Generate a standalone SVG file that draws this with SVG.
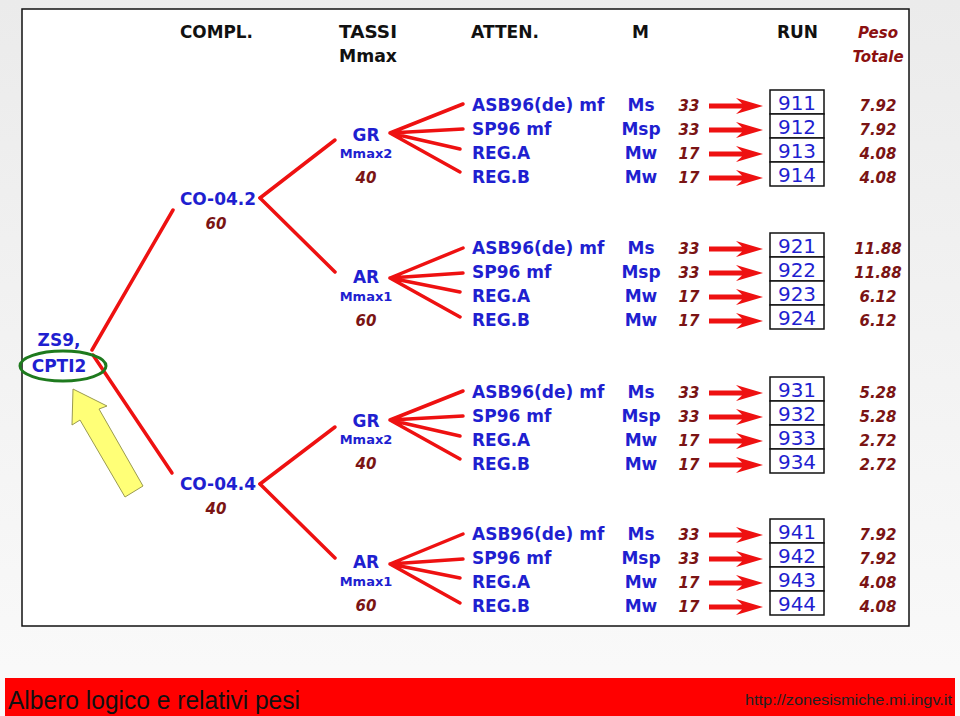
<svg xmlns="http://www.w3.org/2000/svg" xmlns:xlink="http://www.w3.org/1999/xlink" width="960" height="716" viewBox="0 0 960 716">
<style>
.hd{font-family:"DejaVu Sans",Verdana,sans-serif;font-weight:bold;font-size:17px;fill:#111}
.pt{font-family:"DejaVu Sans",Verdana,sans-serif;font-weight:bold;font-style:italic;font-size:15px;fill:#8b1010}
.bl{font-family:"DejaVu Sans",Verdana,sans-serif;font-weight:bold;fill:#1f1fd0}
.lb{font-size:17px}
.sm{font-size:13px}
.nm{font-family:"DejaVu Sans",Verdana,sans-serif;font-weight:bold;font-style:italic;font-size:15px;fill:#7a1414}
.rn{font-family:"DejaVu Sans",Verdana,sans-serif;font-size:20px;fill:#1f1fd0}
.ln{stroke:#ee1111;stroke-width:3.5;stroke-linecap:round;fill:none}
.box{fill:#fff;stroke:#111;stroke-width:1.5}
.ar{fill:#ee1111}
</style>
<defs>
<linearGradient id="bg" x1="0" y1="0" x2="0" y2="1">
<stop offset="0" stop-color="#ebebeb"/>
<stop offset="1" stop-color="#fafafa"/>
</linearGradient>
<path id="arr" class="ar" d="M709,-2.5 L742,-2.5 L736,-8 L763,0 L736,8 L742,2.5 L709,2.5 Z"/>
</defs>
<rect x="0" y="0" width="960" height="716" fill="url(#bg)"/>
<rect x="22" y="9" width="887" height="617" fill="#fff" stroke="#111" stroke-width="1.5"/>

<g id="header">
<text class="hd" x="180" y="38" textLength="73" lengthAdjust="spacingAndGlyphs">COMPL.</text>
<text class="hd" x="339" y="38" textLength="58" lengthAdjust="spacingAndGlyphs">TASSI</text>
<text class="hd" x="339" y="62" textLength="58" lengthAdjust="spacingAndGlyphs">Mmax</text>
<text class="hd" x="471" y="38" textLength="68" lengthAdjust="spacingAndGlyphs">ATTEN.</text>
<text class="hd" x="632" y="38">M</text>
<text class="hd" x="777" y="38" textLength="41" lengthAdjust="spacingAndGlyphs">RUN</text>
<text class="pt" x="878" y="38" text-anchor="middle">Peso</text>
<text class="pt" x="878" y="62" text-anchor="middle">Totale</text>
</g>

<g id="connectors">
<line class="ln" x1="92" y1="350" x2="173" y2="210"/>
<line class="ln" x1="93" y1="355" x2="172" y2="473"/>
<line class="ln" x1="260" y1="198" x2="335" y2="140"/>
<line class="ln" x1="260" y1="198" x2="335" y2="272"/>
<line class="ln" x1="260" y1="484" x2="335" y2="427"/>
<line class="ln" x1="260" y1="484" x2="335" y2="558"/>
<g transform="translate(0,90)">
<path class="ln" d="M390,43 L463,14 M390,43 L463,39 M390,43 L460,59 M390,43 L460,82"/>
</g>
<g transform="translate(0,233)">
<path class="ln" d="M390,45 L463,15 M390,45 L463,40 M390,45 L460,59 M390,45 L460,84"/>
</g>
<g transform="translate(0,377)">
<path class="ln" d="M390,43 L463,14 M390,43 L463,39 M390,43 L460,59 M390,43 L460,82"/>
</g>
<g transform="translate(0,519)">
<path class="ln" d="M390,45 L463,15 M390,45 L463,40 M390,45 L460,59 M390,45 L460,84"/>
</g>
<use xlink:href="#arr" y="106"/><use xlink:href="#arr" y="130"/><use xlink:href="#arr" y="154"/><use xlink:href="#arr" y="178"/>
<use xlink:href="#arr" y="249"/><use xlink:href="#arr" y="273"/><use xlink:href="#arr" y="297"/><use xlink:href="#arr" y="321"/>
<use xlink:href="#arr" y="393"/><use xlink:href="#arr" y="417"/><use xlink:href="#arr" y="441"/><use xlink:href="#arr" y="465"/>
<use xlink:href="#arr" y="535"/><use xlink:href="#arr" y="559"/><use xlink:href="#arr" y="583"/><use xlink:href="#arr" y="607"/>
</g>

<g id="root">
<text class="bl lb" x="59" y="346" text-anchor="middle">ZS9,</text>
<text class="bl lb" x="59" y="372" text-anchor="middle">CPTI2</text>
<ellipse cx="63" cy="366" rx="43" ry="15" fill="none" stroke="#1e7a1e" stroke-width="3"/>
</g>

<g id="pointer">
<path d="M73,389 L107,406 L99,409 L143,486 L125,497 L80,420 L72,425 Z" fill="#ffff77" stroke="#9a9a50" stroke-width="1"/>
</g>

<g id="co042">
<text class="bl lb" x="218" y="205" text-anchor="middle">CO-04.2</text>
<text class="nm" x="216" y="229" text-anchor="middle">60</text>
</g>
<g id="co044">
<text class="bl lb" x="218" y="490" text-anchor="middle">CO-04.4</text>
<text class="nm" x="216" y="514" text-anchor="middle">40</text>
</g>

<g id="gr1">
<text class="bl lb" x="366" y="141" text-anchor="middle">GR</text>
<text class="bl sm" x="366" y="158" text-anchor="middle">Mmax2</text>
<text class="nm" x="366" y="183" text-anchor="middle">40</text>
</g>
<g id="ar1">
<text class="bl lb" x="366" y="283" text-anchor="middle">AR</text>
<text class="bl sm" x="366" y="301" text-anchor="middle">Mmax1</text>
<text class="nm" x="366" y="326" text-anchor="middle">60</text>
</g>
<g id="gr2">
<text class="bl lb" x="366" y="427" text-anchor="middle">GR</text>
<text class="bl sm" x="366" y="444" text-anchor="middle">Mmax2</text>
<text class="nm" x="366" y="469" text-anchor="middle">40</text>
</g>
<g id="ar2">
<text class="bl lb" x="366" y="568" text-anchor="middle">AR</text>
<text class="bl sm" x="366" y="586" text-anchor="middle">Mmax1</text>
<text class="nm" x="366" y="611" text-anchor="middle">60</text>
</g>

<g id="block1">
<text class="bl lb" x="472" y="111">ASB96(de) mf</text>
<text class="bl lb" x="472" y="135">SP96 mf</text>
<text class="bl lb" x="472" y="159">REG.A</text>
<text class="bl lb" x="472" y="183">REG.B</text>
<text class="bl lb" x="641" y="111" text-anchor="middle">Ms</text>
<text class="bl lb" x="641" y="135" text-anchor="middle">Msp</text>
<text class="bl lb" x="641" y="159" text-anchor="middle">Mw</text>
<text class="bl lb" x="641" y="183" text-anchor="middle">Mw</text>
<text class="nm" x="689" y="111" text-anchor="middle">33</text>
<text class="nm" x="689" y="135" text-anchor="middle">33</text>
<text class="nm" x="689" y="159" text-anchor="middle">17</text>
<text class="nm" x="689" y="183" text-anchor="middle">17</text>
<rect class="box" x="770" y="90" width="54" height="24"/>
<rect class="box" x="770" y="114" width="54" height="24"/>
<rect class="box" x="770" y="138" width="54" height="24"/>
<rect class="box" x="770" y="162" width="54" height="24"/>
<text class="rn" x="797" y="110" text-anchor="middle">911</text>
<text class="rn" x="797" y="134" text-anchor="middle">912</text>
<text class="rn" x="797" y="158" text-anchor="middle">913</text>
<text class="rn" x="797" y="182" text-anchor="middle">914</text>
<text class="nm" x="878" y="111" text-anchor="middle">7.92</text>
<text class="nm" x="878" y="135" text-anchor="middle">7.92</text>
<text class="nm" x="878" y="159" text-anchor="middle">4.08</text>
<text class="nm" x="878" y="183" text-anchor="middle">4.08</text>
</g>

<g id="block2">
<text class="bl lb" x="472" y="254">ASB96(de) mf</text>
<text class="bl lb" x="472" y="278">SP96 mf</text>
<text class="bl lb" x="472" y="302">REG.A</text>
<text class="bl lb" x="472" y="326">REG.B</text>
<text class="bl lb" x="641" y="254" text-anchor="middle">Ms</text>
<text class="bl lb" x="641" y="278" text-anchor="middle">Msp</text>
<text class="bl lb" x="641" y="302" text-anchor="middle">Mw</text>
<text class="bl lb" x="641" y="326" text-anchor="middle">Mw</text>
<text class="nm" x="689" y="254" text-anchor="middle">33</text>
<text class="nm" x="689" y="278" text-anchor="middle">33</text>
<text class="nm" x="689" y="302" text-anchor="middle">17</text>
<text class="nm" x="689" y="326" text-anchor="middle">17</text>
<rect class="box" x="770" y="233" width="54" height="24"/>
<rect class="box" x="770" y="257" width="54" height="24"/>
<rect class="box" x="770" y="281" width="54" height="24"/>
<rect class="box" x="770" y="305" width="54" height="24"/>
<text class="rn" x="797" y="253" text-anchor="middle">921</text>
<text class="rn" x="797" y="277" text-anchor="middle">922</text>
<text class="rn" x="797" y="301" text-anchor="middle">923</text>
<text class="rn" x="797" y="325" text-anchor="middle">924</text>
<text class="nm" x="878" y="254" text-anchor="middle">11.88</text>
<text class="nm" x="878" y="278" text-anchor="middle">11.88</text>
<text class="nm" x="878" y="302" text-anchor="middle">6.12</text>
<text class="nm" x="878" y="326" text-anchor="middle">6.12</text>
</g>

<g id="block3">
<text class="bl lb" x="472" y="398">ASB96(de) mf</text>
<text class="bl lb" x="472" y="422">SP96 mf</text>
<text class="bl lb" x="472" y="446">REG.A</text>
<text class="bl lb" x="472" y="470">REG.B</text>
<text class="bl lb" x="641" y="398" text-anchor="middle">Ms</text>
<text class="bl lb" x="641" y="422" text-anchor="middle">Msp</text>
<text class="bl lb" x="641" y="446" text-anchor="middle">Mw</text>
<text class="bl lb" x="641" y="470" text-anchor="middle">Mw</text>
<text class="nm" x="689" y="398" text-anchor="middle">33</text>
<text class="nm" x="689" y="422" text-anchor="middle">33</text>
<text class="nm" x="689" y="446" text-anchor="middle">17</text>
<text class="nm" x="689" y="470" text-anchor="middle">17</text>
<rect class="box" x="770" y="377" width="54" height="24"/>
<rect class="box" x="770" y="401" width="54" height="24"/>
<rect class="box" x="770" y="425" width="54" height="24"/>
<rect class="box" x="770" y="449" width="54" height="24"/>
<text class="rn" x="797" y="397" text-anchor="middle">931</text>
<text class="rn" x="797" y="421" text-anchor="middle">932</text>
<text class="rn" x="797" y="445" text-anchor="middle">933</text>
<text class="rn" x="797" y="469" text-anchor="middle">934</text>
<text class="nm" x="878" y="398" text-anchor="middle">5.28</text>
<text class="nm" x="878" y="422" text-anchor="middle">5.28</text>
<text class="nm" x="878" y="446" text-anchor="middle">2.72</text>
<text class="nm" x="878" y="470" text-anchor="middle">2.72</text>
</g>

<g id="block4">
<text class="bl lb" x="472" y="540">ASB96(de) mf</text>
<text class="bl lb" x="472" y="564">SP96 mf</text>
<text class="bl lb" x="472" y="588">REG.A</text>
<text class="bl lb" x="472" y="612">REG.B</text>
<text class="bl lb" x="641" y="540" text-anchor="middle">Ms</text>
<text class="bl lb" x="641" y="564" text-anchor="middle">Msp</text>
<text class="bl lb" x="641" y="588" text-anchor="middle">Mw</text>
<text class="bl lb" x="641" y="612" text-anchor="middle">Mw</text>
<text class="nm" x="689" y="540" text-anchor="middle">33</text>
<text class="nm" x="689" y="564" text-anchor="middle">33</text>
<text class="nm" x="689" y="588" text-anchor="middle">17</text>
<text class="nm" x="689" y="612" text-anchor="middle">17</text>
<rect class="box" x="770" y="519" width="54" height="24"/>
<rect class="box" x="770" y="543" width="54" height="24"/>
<rect class="box" x="770" y="567" width="54" height="24"/>
<rect class="box" x="770" y="591" width="54" height="24"/>
<text class="rn" x="797" y="539" text-anchor="middle">941</text>
<text class="rn" x="797" y="563" text-anchor="middle">942</text>
<text class="rn" x="797" y="587" text-anchor="middle">943</text>
<text class="rn" x="797" y="611" text-anchor="middle">944</text>
<text class="nm" x="878" y="540" text-anchor="middle">7.92</text>
<text class="nm" x="878" y="564" text-anchor="middle">7.92</text>
<text class="nm" x="878" y="588" text-anchor="middle">4.08</text>
<text class="nm" x="878" y="612" text-anchor="middle">4.08</text>
</g>

<g id="footer">
<rect x="5" y="678" width="950" height="38" fill="#ff0000"/>
<text x="8" y="709" font-family="'Liberation Sans',Arial,sans-serif" font-size="25" fill="#111" textLength="292" lengthAdjust="spacingAndGlyphs">Albero logico e relativi pesi</text>
<text x="745" y="705" font-family="'Liberation Sans',Arial,sans-serif" font-size="14" fill="#222" textLength="207" lengthAdjust="spacingAndGlyphs">http://zonesismiche.mi.ingv.it</text>
</g>
</svg>
